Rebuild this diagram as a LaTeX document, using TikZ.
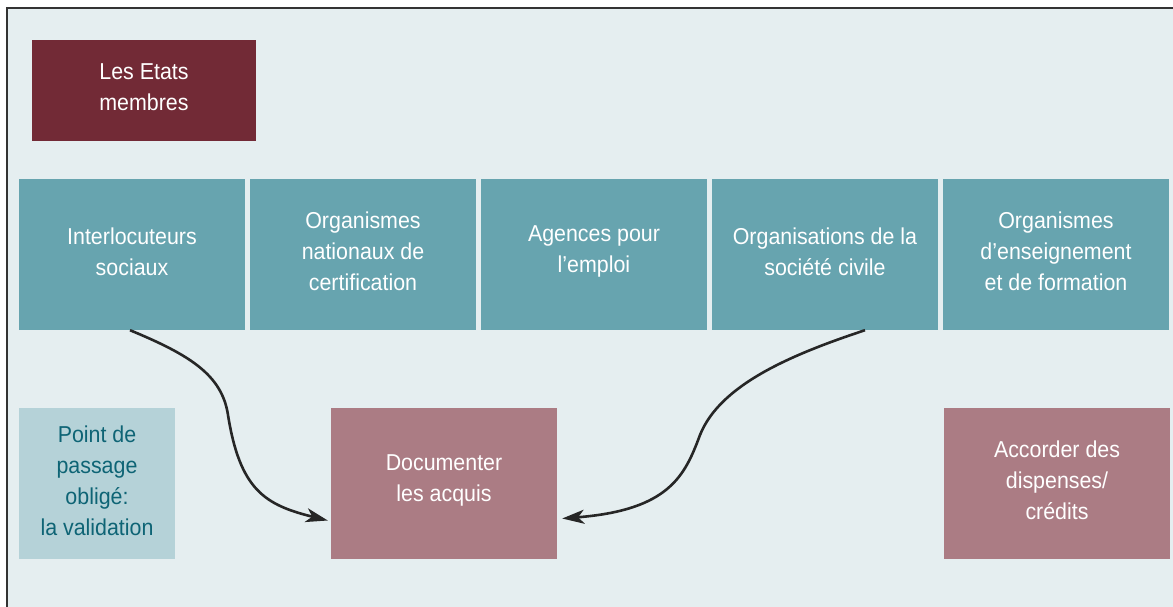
\documentclass[tikz,border=0pt]{standalone}
\usepackage{fontspec}
\setmainfont{Liberation Sans}[FakeStretch=0.93]
\usetikzlibrary{arrows.meta}
\definecolor{bgc}{HTML}{E5EEF0}
\definecolor{wine}{HTML}{722A36}
\definecolor{teal}{HTML}{67A4AF}
\definecolor{pale}{HTML}{B5D2D8}
\definecolor{paletext}{HTML}{0E6475}
\definecolor{rose}{HTML}{AB7C84}
\definecolor{framec}{HTML}{333333}
\tikzset{
  box/.style={inner sep=0pt, align=center, text=white,
    font=\fontsize{23}{31}\selectfont},
  boxtext/.style={yshift=3pt},
  rowbox/.style={box, fill=teal, minimum width=226pt, minimum height=151pt},
  rosebox/.style={box, fill=rose, minimum width=226pt, minimum height=151pt},
  curvearrow/.style={draw=black!85, line width=2.6pt,
    -{Stealth[length=22pt,width=14pt,inset=6pt]}}
}
\begin{document}
\begin{tikzpicture}[x=1pt,y=-1pt]
\useasboundingbox (0,0) rectangle (1173,607);
\fill[white] (0,0) rectangle (1173,607);
\fill[bgc] (7,8) rectangle (1173,607);
\draw[framec, line width=1.5pt] (7,607) -- (7,8) -- (1173,8);

\node[box, fill=wine, minimum width=224pt, minimum height=101pt] (etats) at (144,90.5) {};
\node[box, boxtext] (etatsT) at (etats) {Les Etats\\membres};

\node[rowbox] (inter) at (132,254.5) {};
\node[rowbox] (orgnat) at (363,254.5) {};
\node[rowbox] (agences) at (594,254.5) {};
\node[rowbox] (orgsoc) at (825,254.5) {};
\node[rowbox] (orgens) at (1056,254.5) {};
\node[box, boxtext] (interT) at (inter) {Interlocuteurs\\sociaux};
\node[box, boxtext] (orgnatT) at (orgnat) {Organismes\\nationaux de\\certification};
\node[box, boxtext] (agencesT) at (agences) {Agences pour\\l’emploi};
\node[box, boxtext] (orgsocT) at (orgsoc) {Organisations de la\\société civile};
\node[box, boxtext] (orgensT) at (orgens) {Organismes\\d’enseignement\\et de formation};

\node[box, fill=pale, minimum width=156pt, minimum height=151pt] (point) at (97,483.5) {};
\node[box, boxtext, text=paletext] (pointT) at (point) {Point de\\passage\\obligé:\\la validation};
\node[rosebox] (doc) at (444,483.5) {};
\node[box, boxtext] (docT) at (doc) {Documenter\\les acquis};
\node[rosebox] (acc) at (1057,483.5) {};
\node[box, boxtext] (accT) at (acc) {Accorder des\\dispenses/\\crédits};

\draw[curvearrow] ([xshift=-2pt]inter.south) .. controls (190,355) and (222,375) .. (228,415)
  .. controls (240,490) and (265,505) .. ([xshift=-3pt,yshift=-37pt]doc.west);
\draw[curvearrow] ([xshift=40pt]orgsoc.south) .. controls (790,355) and (720,385) .. (700,435)
  .. controls (685,475) and (670,510) .. ([xshift=5pt,yshift=-35pt]doc.east);
\end{tikzpicture}
\end{document}
